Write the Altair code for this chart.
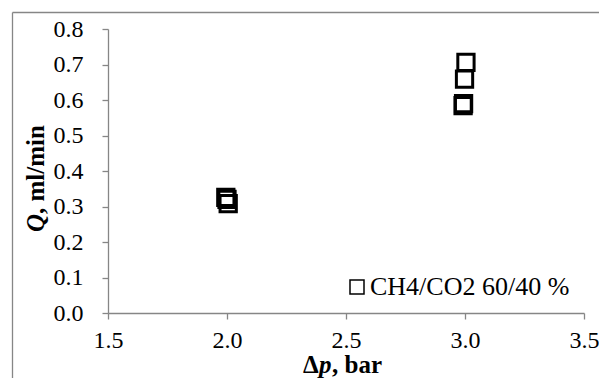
import altair as alt
import pandas as pd

# data
dp_values = [1.995, 2.0, 2.005, 2.992, 2.994, 2.998, 3.004]
q_values = [0.326, 0.32, 0.308, 0.584, 0.59, 0.659, 0.706]
series_name = "CH4/CO2 60/40 %"
x_ticks = [1.5, 2.0, 2.5, 3.0, 3.5]
y_ticks = [0.0, 0.1, 0.2, 0.3, 0.4, 0.5, 0.6, 0.7, 0.8]

df = pd.DataFrame({"dp": dp_values, "q": q_values, "series": [series_name] * len(dp_values)})
one = pd.DataFrame({"a": [0]})

FONT = "'Liberation Serif', 'Times New Roman', serif"
GREY = "#868686"

points = alt.Chart(df).mark_point(
    shape="square", filled=False, size=265, strokeWidth=3, opacity=1
).encode(
    x=alt.X("dp:Q", scale=alt.Scale(domain=[1.5, 3.5], nice=False, zero=False),
            axis=alt.Axis(values=x_ticks, format=".1f", title="", grid=False,
                          labelFont=FONT, labelFontSize=24,
                          labelFlush=False, labelPadding=9, tickSize=6)),
    y=alt.Y("q:Q", scale=alt.Scale(domain=[0, 0.8], nice=False),
            axis=alt.Axis(values=y_ticks, format=".1f", title="", grid=False,
                          labelFont=FONT, labelFontSize=24,
                          labelPadding=19, tickSize=6)),
    color=alt.Color("series:N", scale=alt.Scale(range=["black"]),
                    legend=alt.Legend(title=None, orient="none", legendX=236, legendY=245,
                                      symbolType="square", symbolSize=196,
                                      symbolStrokeWidth=1.5, symbolFillColor="transparent",
                                      labelFont=FONT, labelFontSize=26, labelColor="black",
                                      labelOffset=0, padding=0, labelLimit=400)),
)

frame_left = alt.Chart(one).mark_rule(color=GREY, strokeWidth=1.3).encode(
    x=alt.value(-95.5), y=alt.value(-16.5), y2=alt.value(400))
frame_top = alt.Chart(one).mark_rule(color=GREY, strokeWidth=1.3).encode(
    x=alt.value(-95.5), x2=alt.value(700), y=alt.value(-16.5))

def txt(s, x, y, italic=False, angle=0):
    return alt.Chart(one).mark_text(
        text=s, font=FONT, fontSize=25, fontWeight="bold",
        fontStyle="italic" if italic else "normal",
        align="left", baseline="alphabetic", angle=angle, color="black"
    ).encode(x=alt.value(x), y=alt.value(y))

# x title: "Δp, bar"
xt = txt("Δ", 195, 344) + txt("p", 211, 344, italic=True) + txt(", bar", 224, 344)
# y title: "Q, ml/min" rotated
yt = txt("Q", -64, 203, italic=True, angle=270) + txt(", ml/min", -64, 185, angle=270)

chart = alt.layer(frame_left, frame_top, points, xt, yt).properties(
    width=476, height=284,
    autosize=alt.AutoSizeParams(type="none"),
    padding={"left": 100, "top": 21, "right": 15, "bottom": 65},
).configure(font=FONT).configure_view(stroke=None).configure_axis(
    labelFont=FONT, labelFontSize=24, labelColor="black",
    domainColor=GREY, tickColor=GREY, domainWidth=1.3, tickWidth=1.3,
)

chart.save("out.html", embed_options={"renderer": "svg", "actions": False})
